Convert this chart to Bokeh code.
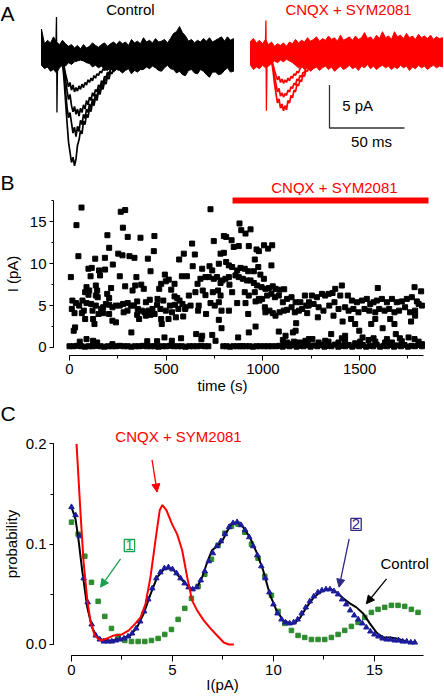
from bokeh.plotting import figure
from bokeh.layouts import column
from bokeh.models import (Range1d, Label, Arrow, NormalHead, SingleIntervalTicker,
                          PrintfTickFormatter)
from bokeh.embed import file_html
from bokeh.resources import INLINE

FONT = "Liberation Sans"
RED = "#ff0000"
GREEN_FIT = "#2e8b2e"
GREEN_BOX = "#1aa050"
BLUE_FIT = "#1c1c9c"
BLUE_BOX = "#2e2a86"
W = 444

# ---------------- Panel A: example traces (ms, pA) ----------------
trace_t = [0, 2, 4, 6, 8, 10, 12, 14, 16, 18, 20, 22, 24, 26, 28, 30, 32, 34, 36, 38,
           40, 42, 44, 46, 48, 50, 52, 54, 56, 58, 60, 62, 64, 66, 68, 70, 72, 74, 76, 78,
           80, 82, 84, 86, 88, 90, 92, 94, 96, 98, 100, 102, 104, 106, 108, 110, 112, 114, 116, 118,
           120, 122, 124, 126, 128]
ctrl_upper = [3.3, 1.6, 2.0, 1.7, 2.4, 1.8, 1.5, 2.0, 1.6, 1.3,
              1.5, 1.1, 1.4, 1.0, 1.5, 1.1, 1.3, 1.7, 1.4, 1.2,
              1.5, 1.7, 1.3, 1.6, 1.8, 1.5, 1.9, 1.6, 1.8, 1.4,
              2.1, 1.7, 1.9, 1.6, 2.3, 1.8, 2.0, 1.7, 2.2, 1.8,
              1.9, 2.1, 1.7, 2.2, 2.8, 3.0, 3.6, 2.9, 2.5, 1.9,
              2.1, 1.7, 2.0, 1.8, 2.2, 1.9, 2.3, 1.8, 2.0, 2.2,
              2.4, 1.9, 2.4, 2.0, 2.2]
ctrl_lower = [-0.9, -1.3, -1.1, -1.6, -1.4, -1.8, -1.2, -0.9, -1.0, -0.6,
              -0.8, -0.5, -0.4, -0.3, -0.4, -0.6, -0.7, -1.1, -0.9, -1.2,
              -1.0, -1.4, -1.5, -1.2, -1.7, -1.4, -1.5, -1.8, -1.5, -1.3,
              -1.9, -1.5, -1.7, -1.4, -1.4, -1.1, -1.3, -1.0, -1.2, -1.5,
              -1.6, -1.2, -0.9, -1.3, -1.4, -1.8, -1.6, -2.0, -2.1, -1.5,
              -1.4, -1.8, -1.9, -1.4, -1.6, -2.0, -2.3, -1.7, -1.7, -2.0,
              -1.9, -1.5, -1.2, -1.7, -1.6]
drug_upper = [1.9, 2.2, 1.7, 2.0, 1.6, 2.1, 1.5, 1.8, 1.3, 1.6,
              1.4, 1.7, 1.3, 1.8, 1.6, 2.1, 1.7, 2.0, 1.8, 2.3,
              1.9, 2.1, 2.4, 1.9, 2.2, 2.0, 2.5, 2.1, 2.3, 1.9,
              2.6, 2.0, 2.2, 2.4, 2.0, 2.5, 2.1, 2.3, 2.9, 2.2,
              2.4, 2.0, 2.6, 2.2, 3.0, 2.3, 2.5, 2.1, 3.0, 2.4,
              2.6, 2.2, 2.8, 2.3, 2.5, 2.1, 2.7, 2.3, 2.5, 2.2,
              2.6, 2.1, 2.4, 2.2, 2.3]
drug_lower = [-0.9, -1.4, -1.1, -1.3, -0.9, -1.2, -1.0, -0.7, -0.4, -0.6,
              -0.3, -0.5, -0.2, -0.4, -0.6, -0.9, -1.2, -1.0, -1.4, -1.2,
              -1.6, -1.3, -1.1, -1.5, -1.2, -1.0, -1.4, -1.1, -1.6, -1.3,
              -1.0, -1.4, -1.2, -0.9, -1.3, -1.1, -1.5, -1.0, -1.2, -0.8,
              -1.3, -1.0, -1.4, -1.1, -0.9, -1.2, -1.0, -1.4, -1.1, -1.3,
              -0.9, -1.2, -1.0, -1.5, -1.1, -1.3, -0.9, -1.2, -1.0, -1.4,
              -1.1, -0.9, -1.2, -1.0, -1.1]

ctrl_event_t = [14, 15, 16, 17, 18, 19, 20, 21, 22, 23, 24, 25, 26, 27, 28, 29, 30, 31,
                32, 33, 34, 35, 36, 37, 38, 39, 40, 41, 42, 43, 44, 45, 46, 47, 48]
ctrl_event_1 = [-0.5, -2.5, -5.0, -7.5, -9.8, -11.0, -12.2, -11.6, -12.6, -11.8, -10.2, -9.6,
                -8.5, -8.9, -7.4, -7.8, -6.6, -7.0, -5.9, -6.3, -5.2, -5.6, -4.6, -5.0, -3.9,
                -4.3, -3.4, -3.7, -2.8, -3.1, -2.2, -2.5, -1.7, -1.9, -1.2]
ctrl_event_2 = [-0.4, -1.8, -3.9, -5.8, -7.0, -6.4, -7.6, -8.8, -8.1, -9.2, -8.0, -8.6,
                -7.3, -7.8, -6.6, -7.1, -6.0, -6.4, -5.4, -5.9, -4.8, -5.3, -4.3, -4.6, -3.6,
                -4.0, -3.0, -3.4, -2.5, -2.7, -1.9, -2.1, -1.4, -1.2, -1.0]
ctrl_event_3 = [-0.3, -1.2, -2.6, -3.8, -4.9, -4.3, -5.6, -6.3, -5.7, -6.6, -6.0, -6.8,
                -5.9, -6.4, -5.5, -6.0, -5.0, -5.5, -4.6, -5.0, -4.1, -4.5, -3.7, -4.0, -3.2,
                -3.5, -2.7, -3.0, -2.2, -2.4, -1.7, -1.9, -1.3, -1.0, -0.9]
ctrl_event_4 = [-0.3, -1.0, -1.9, -2.6, -3.4, -2.9, -3.8, -3.2, -4.0, -3.5, -3.9, -3.3,
                -3.7, -3.1, -3.5, -2.9, -3.2, -2.6, -2.9, -2.4, -2.7, -2.1, -2.4, -1.9, -2.1,
                -1.6, -1.8, -1.3, -1.5, -1.1, -1.3, -1.0, -1.2, -0.9, -1.0]
drug_event_t = [14, 15, 16, 17, 18, 19, 20, 21, 22, 23, 24, 25, 26, 27, 28, 29, 30, 31,
                32, 33, 34, 35, 36, 37, 38, 39]
drug_event_1 = [-0.3, -1.5, -3.0, -4.2, -5.3, -4.8, -5.9, -5.4, -6.2, -5.6, -6.1, -5.0, -5.3,
                -4.4, -4.7, -3.8, -4.0, -3.1, -3.3, -2.6, -2.8, -2.0, -2.2, -1.5, -1.6, -1.0]
drug_event_2 = [-0.3, -1.1, -2.2, -3.1, -4.0, -3.6, -4.5, -4.1, -4.6, -4.2, -4.4, -3.8, -4.0,
                -3.4, -3.6, -3.0, -3.2, -2.5, -2.7, -2.1, -2.3, -1.7, -1.8, -1.2, -1.0, -0.8]
drug_event_3 = [-0.2, -0.8, -1.5, -2.1, -2.6, -2.2, -2.9, -2.5, -3.0, -2.6, -2.9, -2.4, -2.7,
                -2.2, -2.4, -1.9, -2.1, -1.6, -1.8, -1.3, -1.1, -0.9, -1.0, -0.8, -0.9, -0.7]
ctrl_artifact_t = [9.5, 10.0, 10.3, 10.7, 11.2]
ctrl_artifact_I = [0.5, 4.7, -6.4, -1.0, 0.3]
drug_artifact_t = [9.8, 10.3, 10.6, 11.0, 11.4]
drug_artifact_I = [0.5, 4.3, -6.2, -0.8, 0.4]
scale_ms = 50
scale_pA = 5

# ---------------- Panel B: amplitude vs time (s, pA) ----------------
events_0_600 = [
    (62, 16.7), (36, 14.6), (265, 16.2), (288, 16.4), (276, 14.3), (196, 13.4), (301, 13.2), (367, 13.1),
    (439, 13.3), (205, 11.9), (436, 11.5), (46, 10.9), (252, 11.2), (274, 11.0), (183, 10.7), (133, 10.6),
    (310, 10.9), (336, 10.7), (405, 10.6), (591, 11.2), (567, 10.5), (224, 9.9), (98, 9.4), (115, 9.5),
    (153, 9.2), (184, 9.3), (419, 9.1), (7, 8.4), (109, 8.5), (158, 8.6), (260, 8.5), (346, 8.4),
    (493, 8.7), (513, 8.1), (581, 8.5), (88, 7.2), (102, 6.8), (81, 6.6), (136, 7.4), (143, 6.8),
    (215, 7.1), (288, 7.3), (326, 6.8), (340, 7.4), (371, 7.5), (384, 7.0), (464, 7.0), (474, 7.6),
    (498, 7.9), (526, 6.9), (543, 7.6), (98, 6.3), (136, 6.2), (146, 6.0), (195, 6.4), (205, 5.9),
    (543, 6.1), (557, 5.9), (569, 5.6), (350, 5.5), (395, 5.4), (415, 5.7), (485, 5.6), (455, 5.8),
    (15, 5.6), (33, 5.3), (12, 4.6), (50, 5.0), (67, 5.6), (88, 5.3), (74, 4.4), (112, 5.2),
    (119, 4.4), (136, 5.0), (164, 4.6), (174, 4.8), (188, 5.2), (205, 5.1), (222, 4.8), (240, 5.0),
    (260, 5.0), (277, 5.2), (301, 5.3), (319, 5.0), (333, 5.0), (353, 4.6), (374, 4.4), (388, 4.2),
    (408, 4.4), (429, 4.6), (453, 5.1), (470, 4.6), (498, 4.4), (519, 5.0), (546, 5.1), (563, 4.6),
    (584, 5.2), (598, 4.6), (280, 4.2), (300, 4.4), (440, 4.0), (530, 4.2), (350, 3.9),
    (26, 4.1), (64, 4.1), (81, 3.4), (122, 3.4), (129, 2.8), (150, 4.0), (174, 4.1), (205, 4.0),
    (222, 3.2), (240, 3.0), (360, 3.4), (395, 3.8), (419, 3.9), (474, 3.4), (477, 2.8), (512, 3.4),
    (550, 3.6), (588, 3.7), (29, 2.4), (22, 2.0), (320, 1.8),
    (53, 0.7), (88, 1.0), (122, 0.8), (143, 0.6), (222, 0.4), (402, 0.75), (453, 0.75), (491, 1.2),
    (529, 0.8), (577, 1.1),
]
events_600_1240 = [
    (729, 16.5), (879, 14.8), (888, 14.0), (910, 13.6), (936, 14.1), (634, 12.4), (746, 12.7), (798, 13.3),
    (810, 13.2), (838, 12.8), (849, 12.0), (875, 12.1), (927, 12.1), (967, 11.7), (979, 11.5), (1006, 12.2),
    (1027, 11.8), (1048, 12.2), (648, 11.1), (781, 11.2), (798, 11.3), (958, 10.5), (637, 9.7), (686, 9.4),
    (724, 9.7), (738, 9.2), (772, 10.0), (810, 10.2), (824, 9.8), (841, 9.6), (867, 9.2), (884, 9.5),
    (906, 9.4), (924, 9.1), (953, 9.1), (976, 9.6), (987, 8.7), (1005, 8.2), (1044, 9.8), (607, 8.5),
    (662, 7.6), (677, 8.2), (703, 8.4), (720, 8.4), (746, 8.2), (763, 8.4), (781, 7.7), (790, 8.0),
    (806, 8.2), (824, 8.4), (858, 8.6), (875, 8.4), (896, 8.2), (918, 8.0), (936, 8.0), (953, 7.7),
    (970, 7.4), (993, 7.2), (1013, 7.0), (1031, 7.1), (1051, 7.3), (1065, 7.0), (1086, 6.9), (1110, 6.95),
    (617, 6.2), (651, 6.6), (689, 6.8), (703, 6.25), (741, 6.6), (768, 6.8), (781, 6.2), (827, 7.5),
    (841, 6.6), (906, 6.6), (927, 6.2), (958, 6.6), (979, 5.8), (996, 5.8), (1022, 6.2), (1044, 6.4),
    (1062, 6.0), (1082, 6.2), (1103, 5.4), (1125, 5.8), (1148, 6.0), (1169, 5.4), (1194, 5.4), (1217, 6.2),
    (1224, 5.0), (1238, 5.4),
    (600, 4.8), (626, 5.0), (668, 5.0), (665, 4.4), (706, 4.0), (729, 5.3), (751, 5.0), (772, 5.4),
    (786, 4.4), (824, 4.4), (867, 5.3), (910, 5.3), (924, 4.0), (962, 5.5), (982, 5.6), (1010, 4.8),
    (1013, 4.2), (1034, 4.4), (1051, 4.1), (1065, 3.8), (1086, 4.2), (1108, 4.4), (1125, 4.5), (1148, 4.8),
    (1165, 4.2), (1186, 4.4), (1203, 4.6), (1229, 4.1),
    (772, 3.3), (786, 2.3), (962, 2.5), (927, 1.8), (872, 1.2), (655, 1.6), (682, 1.0), (686, 1.4),
    (738, 1.5), (755, 0.8), (1082, 1.9), (1117, 1.4), (1155, 1.8), (1169, 2.0), (1172, 2.9), (1103, 0.9),
    (1125, 0.6), (1148, 0.4), (1169, 0.6), (1194, 0.6), (1220, 0.8), (1238, 1.0), (1110, 0.5), (1135, 0.3),
    (1160, 0.7), (1180, 0.35), (1200, 0.5), (1215, 0.3), (1232, 0.6),
]
events_1240_1830 = [
    (1408, 7.4), (1594, 7.1), (1784, 7.2), (1818, 6.7), (1374, 7.0), (1360, 6.5), (1340, 6.4), (1253, 6.2),
    (1279, 6.0), (1305, 6.4), (1322, 6.2), (1400, 6.2), (1439, 6.2), (1460, 5.6), (1486, 5.4), (1512, 5.6),
    (1537, 5.8), (1555, 5.2), (1572, 5.4), (1589, 5.6), (1615, 5.8), (1641, 5.4), (1667, 5.8), (1692, 5.4),
    (1718, 5.5), (1744, 5.8), (1770, 6.0), (1796, 5.5), (1805, 5.2),
    (1236, 5.0), (1262, 5.2), (1288, 4.8), (1313, 4.4), (1343, 5.0), (1370, 5.4), (1391, 4.6), (1425, 4.8),
    (1443, 4.4), (1468, 4.6), (1494, 4.2), (1525, 4.6), (1550, 4.4), (1581, 4.2), (1601, 4.6), (1629, 4.4),
    (1653, 4.6), (1680, 4.2), (1704, 4.4), (1735, 4.8), (1761, 4.2), (1787, 4.4), (1822, 5.0),
    (1284, 3.6), (1365, 3.8), (1412, 3.1), (1456, 3.4), (1477, 2.8), (1498, 2.0), (1560, 2.8), (1581, 3.4),
    (1619, 2.3), (1658, 3.4), (1680, 2.8), (1766, 3.1), (1787, 3.8),
    (1353, 1.6), (1425, 1.4), (1515, 1.2), (1687, 1.6), (1753, 1.2), (1784, 1.0), (1256, 1.0), (1322, 0.8),
    (1391, 0.6), (1546, 0.9), (1632, 0.6), (1288, 0.6), (1425, 0.8), (1477, 0.5), (1581, 0.7), (1667, 0.6),
    (1718, 0.75), (1805, 0.7), (1822, 0.4), (1708, 1.1), (1641, 1.0), (1572, 1.1), (1408, 1.1), (1339, 0.7),
    (1503, 0.7),
]
failures_t = [0, 20, 40, 60, 80, 100, 120, 140, 160, 180, 200, 220, 240, 260, 280, 300, 320, 340,
              360, 380, 400, 420, 440, 460, 480, 500, 520, 540, 560, 580, 600, 620, 640, 660, 680,
              700, 718, 795, 812, 830, 848, 866, 882, 895, 912, 930, 948, 966, 985, 1008, 1026, 1045,
              1068, 1085, 1102, 1120, 1138, 1156, 1174, 1192, 1210, 1228, 1246, 1264, 1282, 1300,
              1318, 1336, 1354, 1372, 1390, 1408, 1426, 1444, 1462, 1480, 1498, 1516, 1534, 1552,
              1570, 1588, 1606, 1624, 1642, 1660, 1678, 1696, 1714, 1732, 1750, 1768, 1786, 1804, 1822]
failures_I = [0.15, 0.15, 0.2, 0.15, 0.1, 0.15, 0.15, 0.2, 0.15, 0.1, 0.15, 0.15, 0.15, 0.2, 0.15, 0.15,
              0.1, 0.15, 0.15, 0.2, 0.15, 0.15, 0.15, 0.1, 0.15, 0.15, 0.2, 0.15, 0.15, 0.15, 0.1, 0.15,
              0.15, 0.15, 0.2, 0.15, 0.15, 0.15, 0.15, 0.1, 0.15, 0.15, 0.15, 0.15, 0.15, 0.15, 0.1, 0.15,
              0.15, 0.15, 0.15, 0.15, 0.15, 0.2, 0.1, 0.25, 0.15, 0.3, 0.1, 0.2, 0.15, 0.3, 0.1, 0.25,
              0.15, 0.3, 0.1, 0.2, 0.15, 0.35, 0.1, 0.2, 0.15, 0.3, 0.1, 0.25, 0.15, 0.3, 0.1, 0.2,
              0.15, 0.35, 0.1, 0.2, 0.15, 0.3, 0.1, 0.25, 0.15, 0.3, 0.1, 0.2, 0.15, 0.3, 0.15]
drug_start_s = 843
drug_end_s = 1856

# ---------------- Panel C: amplitude histograms (pA, probability) ----------------
control_x = [0.0, 0.2, 0.35, 0.53, 0.78, 1.02, 1.27, 1.6, 2.0, 2.5, 2.92, 3.25, 3.58, 3.91, 4.24, 4.57,
             4.82, 5.07, 5.4, 5.73, 5.97, 6.22, 6.47, 6.72, 6.96, 7.21, 7.46, 7.71, 7.95, 8.2, 8.5,
             8.83, 9.16, 9.49, 9.82, 10.15, 10.48, 10.81, 11.05, 11.3, 11.6, 11.96, 12.3, 12.63, 12.87,
             13.12, 13.45, 13.78, 14.11, 14.44, 14.77, 15.1, 15.43, 15.76, 16.1, 16.42, 16.75, 17.08]
control_p = [0.137, 0.125, 0.104, 0.074, 0.037, 0.017, 0.007, 0.004, 0.004, 0.006, 0.009, 0.017, 0.031,
             0.050, 0.067, 0.075, 0.076, 0.074, 0.066, 0.059, 0.055, 0.057, 0.067, 0.082, 0.094, 0.098,
             0.103, 0.113, 0.121, 0.122, 0.117, 0.107, 0.092, 0.074, 0.050, 0.034, 0.024, 0.021, 0.021,
             0.026, 0.036, 0.046, 0.052, 0.055, 0.055, 0.052, 0.046, 0.041, 0.037, 0.031, 0.021, 0.012,
             0.007, 0.007, 0.006, 0.004, 0.002, 0.002]
drug_x = [0.25, 0.45, 0.6, 0.78, 0.95, 1.15, 1.44, 1.77, 2.1, 2.5, 2.84, 3.17, 3.42, 3.66, 3.91, 4.16,
          4.37, 4.5, 4.7, 4.98, 5.23, 5.48, 5.73, 5.97, 6.22, 6.55, 6.88, 7.21, 7.54, 7.79, 8.04]
drug_p = [0.200, 0.130, 0.082, 0.045, 0.022, 0.009, 0.004, 0.006, 0.009, 0.010, 0.014, 0.021, 0.027,
          0.040, 0.067, 0.104, 0.134, 0.139, 0.134, 0.120, 0.110, 0.094, 0.067, 0.044, 0.034, 0.024,
          0.016, 0.009, 0.002, 0.0, 0.0]
fit2_x = [0.0, 0.2, 0.4, 0.6, 0.8, 1.0, 1.2, 1.4, 1.6, 1.8, 2.0, 2.2, 2.4, 2.6, 2.8, 3.0, 3.2, 3.4,
          3.6, 3.8, 4.0, 4.2, 4.4, 4.6, 4.8, 5.0, 5.2, 5.4, 5.6, 5.8, 6.0, 6.2, 6.4, 6.6, 6.8, 7.0,
          7.2, 7.4, 7.6, 7.8, 8.0, 8.2, 8.4, 8.6, 8.8, 9.0, 9.2, 9.4, 9.6, 9.8, 10.0, 10.2, 10.4,
          10.6, 10.8, 11.0, 11.2, 11.4, 11.6, 11.8, 12.0, 12.2, 12.4, 12.6, 12.8, 13.0, 13.2, 13.4,
          13.6, 13.8, 14.0, 14.2, 14.4, 14.6, 14.8, 15.0, 15.2, 15.4, 15.6, 15.8, 16.0, 16.2, 16.4,
          16.6, 16.8, 17.0]
fit2_p = [0.137, 0.129, 0.108, 0.066, 0.042, 0.020, 0.009, 0.005, 0.003, 0.003,
          0.003, 0.004, 0.005, 0.006, 0.008, 0.011, 0.016, 0.023, 0.033, 0.045,
          0.056, 0.066, 0.072, 0.076, 0.077, 0.075, 0.071, 0.066, 0.061, 0.057,
          0.055, 0.057, 0.064, 0.073, 0.083, 0.091, 0.098, 0.103, 0.110, 0.117,
          0.121, 0.122, 0.119, 0.114, 0.107, 0.098, 0.089, 0.078, 0.066, 0.052,
          0.040, 0.031, 0.025, 0.022, 0.021, 0.022, 0.025, 0.031, 0.037, 0.043,
          0.048, 0.052, 0.054, 0.055, 0.055, 0.053, 0.050, 0.045, 0.040, 0.034,
          0.029, 0.025, 0.021, 0.017, 0.013, 0.010, 0.008, 0.006, 0.005, 0.005,
          0.004, 0.004, 0.003, 0.003, 0.002, 0.002]
fit1_x = [0.00, 0.33, 0.66, 0.99, 1.32, 1.65, 1.98, 2.31, 2.64, 2.97, 3.30, 3.63, 3.96, 4.29, 4.62,
          4.95, 5.28, 5.61, 5.94, 6.27, 6.60, 6.93, 7.26, 7.59, 7.92, 8.25, 8.58, 8.91, 9.24, 9.57,
          9.90, 10.23, 10.56, 10.89, 11.22, 11.55, 11.88, 12.21, 12.54, 12.87, 13.20, 13.53, 13.86,
          14.19, 14.52, 14.85, 15.18, 15.51, 15.84, 16.17, 16.50, 16.83, 17.16]
fit1_p = [0.122, 0.110, 0.088, 0.062, 0.043, 0.028, 0.016, 0.008, 0.004, 0.003,
          0.003, 0.003, 0.004, 0.006, 0.010, 0.015, 0.025, 0.036, 0.046, 0.058,
          0.070, 0.085, 0.099, 0.111, 0.118, 0.120, 0.112, 0.100, 0.086, 0.068,
          0.049, 0.033, 0.021, 0.014, 0.009, 0.007, 0.005, 0.005, 0.005, 0.007,
          0.010, 0.014, 0.018, 0.022, 0.027, 0.032, 0.035, 0.037, 0.039, 0.039,
          0.038, 0.035, 0.032]


def style_axis(ax, tick_out, minor_out):
    ax.axis_line_color = "black"
    ax.axis_line_width = 1
    ax.major_tick_line_color = "black"
    ax.minor_tick_line_color = "black"
    ax.major_tick_in = 0
    ax.minor_tick_in = 0
    ax.major_tick_out = tick_out
    ax.minor_tick_out = minor_out
    ax.major_label_text_font = FONT
    ax.major_label_text_font_size = "15px"
    ax.major_label_text_color = "black"
    ax.major_label_standoff = 3
    ax.axis_label_text_font = FONT
    ax.axis_label_text_font_size = "15px"
    ax.axis_label_text_font_style = "normal"
    ax.axis_label_text_color = "black"


def txt(x, y, text, color="black", size="15px", align="center", baseline="middle", **kw):
    return Label(x=x, y=y, text=text, text_color=color, text_font=FONT, text_font_size=size,
                 text_align=align, text_baseline=baseline, **kw)


# ================= Figure A (traces, plus the heading row of panel B) =================
drug_offset = 139.33   # red traces are drawn to the right of the control traces
pA = figure(width=W, height=195, x_range=Range1d(-27.33, 268.67), y_range=Range1d(-16.05, 6.63),
            x_axis_type=None, y_axis_type=None, title=None,
            output_backend="svg", toolbar_location=None,
            min_border_left=0, min_border_right=0, min_border_top=0, min_border_bottom=0,
            outline_line_color=None)
pA.grid.visible = False

band_x = trace_t + trace_t[::-1]
pA.patch(band_x, ctrl_upper + ctrl_lower[::-1], color="black", line_width=1)
for ev in (ctrl_event_1, ctrl_event_2, ctrl_event_3, ctrl_event_4):
    pA.line(ctrl_event_t, ev, color="black", line_width=1.7)
pA.line(ctrl_artifact_t, ctrl_artifact_I, color="black", line_width=1.3)

drug_band_x = [t + drug_offset for t in band_x]
pA.patch(drug_band_x, drug_upper + drug_lower[::-1], color=RED, line_width=1)
for ev in (drug_event_1, drug_event_2, drug_event_3):
    pA.line([t + drug_offset for t in drug_event_t], ev, color=RED, line_width=1.7)
pA.line([t + drug_offset for t in drug_artifact_t], drug_artifact_I, color=RED, line_width=1.3)

sb_x, sb_y = 192, -8.2
pA.line([sb_x, sb_x, sb_x + scale_ms], [sb_y + scale_pA, sb_y, sb_y], color="#333333", line_width=1.3)
pA.add_layout(txt(sb_x + 8.5, sb_y + 2.6, f"{scale_pA} pA", align="left"))
pA.add_layout(txt(sb_x + 28, sb_y - 1.55, f"{scale_ms} ms"))
pA.add_layout(txt(59.3, 5.55, "Control"))
pA.add_layout(txt(204.7, 5.55, "CNQX + SYM2081", color=RED))
pA.add_layout(txt(-27.33, 6.5, "A", size="21px", align="left", baseline="top"))
pA.add_layout(txt(-27.33, -13.2, "B", size="21px", align="left", baseline="top"))
pA.add_layout(txt(195.3, -15.1, "CNQX + SYM2081", color=RED))

# ================= Figure B =================
pB = figure(width=W, height=205, x_range=Range1d(-356.7, 1938.8), y_range=Range1d(-0.955, 18.02),
            output_backend="svg", toolbar_location=None, title=None,
            min_border_left=0, min_border_right=0, min_border_top=1, min_border_bottom=45,
            outline_line_color=None)
pB.grid.visible = False
style_axis(pB.xaxis[0], 5, 3)
style_axis(pB.yaxis[0], 4, 2)
pB.xaxis.ticker = SingleIntervalTicker(interval=500, num_minor_ticks=2)
pB.yaxis.ticker = SingleIntervalTicker(interval=5, num_minor_ticks=2)
pB.xaxis.bounds = (0, 1830)
pB.yaxis.bounds = (0, 17.5)
pB.yaxis.fixed_location = -82.7
pB.xaxis.axis_label = "time (s)"
pB.yaxis.axis_label = "I (pA)"
pB.xaxis.axis_label_standoff = 0
pB.yaxis.axis_label_standoff = 6

all_events = events_0_600 + events_600_1240 + events_1240_1830
pB.scatter([e[0] for e in all_events], [e[1] for e in all_events], marker="square", size=5,
           color="black")
pB.scatter(failures_t, failures_I, marker="square", size=5, color="black")
pB.segment(x0=[drug_start_s], y0=[17.54], x1=[drug_end_s], y1=[17.54], color=RED, line_width=6)

# ================= Figure C =================
pC = figure(width=W, height=296, x_range=Range1d(-3.515, 18.47), y_range=Range1d(-0.011, 0.2423),
            output_backend="svg", toolbar_location=None, title=None,
            min_border_left=0, min_border_right=0, min_border_top=1, min_border_bottom=41,
            outline_line_color=None)
pC.grid.visible = False
style_axis(pC.xaxis[0], 6, 4)
style_axis(pC.yaxis[0], 4, 3)
pC.xaxis.ticker = SingleIntervalTicker(interval=5, num_minor_ticks=2)
pC.yaxis.ticker = SingleIntervalTicker(interval=0.1, num_minor_ticks=2)
pC.yaxis.formatter = PrintfTickFormatter(format="%.1f")
pC.xaxis.bounds = (0, 17.43)
pC.yaxis.bounds = (0, 0.2)
pC.yaxis.fixed_location = -0.891
pC.yaxis.axis_label = "probability"
pC.yaxis.axis_label_standoff = 3
pC.xaxis.axis_label = "I(pA)"
pC.xaxis.axis_label_standoff = -2

pC.scatter(fit1_x, fit1_p, marker="square", size=4.5, color=GREEN_FIT)
pC.line(control_x, control_p, color="black", line_width=2)
pC.scatter(fit2_x, fit2_p, marker="triangle", size=5.5, color=BLUE_FIT)
pC.line(drug_x, drug_p, color=RED, line_width=2)

pC.add_layout(txt(-3.515, 0.242, "C", size="21px", align="left", baseline="top"))
pC.add_layout(txt(5.3, 0.207, "CNQX + SYM2081", color=RED))
pC.add_layout(Arrow(end=NormalHead(size=8, fill_color=RED, line_color=RED),
                    x_start=3.99, y_start=0.184, x_end=4.24, y_end=0.152,
                    line_color=RED, line_width=1.3))
pC.add_layout(txt(2.87, 0.0987, "1", color=GREEN_BOX, border_line_color=GREEN_BOX,
                  border_line_width=1.3, background_fill_color="white", padding=1))
pC.add_layout(Arrow(end=NormalHead(size=8, fill_color=GREEN_BOX, line_color=GREEN_BOX),
                    x_start=2.43, y_start=0.0854, x_end=1.44, y_end=0.0571,
                    line_color=GREEN_BOX, line_width=1.3))
pC.add_layout(txt(14.09, 0.1198, "2", color=BLUE_BOX, border_line_color=BLUE_BOX,
                  border_line_width=1.3, background_fill_color="white", padding=1))
pC.add_layout(Arrow(end=NormalHead(size=8, fill_color=BLUE_BOX, line_color=BLUE_BOX),
                    x_start=13.75, y_start=0.1054, x_end=13.25, y_end=0.0571,
                    line_color=BLUE_BOX, line_width=1.3))
pC.add_layout(txt(16.5, 0.0807, "Control"))
pC.add_layout(Arrow(end=NormalHead(size=8, fill_color="black", line_color="black"),
                    x_start=15.6, y_start=0.0655, x_end=14.6, y_end=0.0406,
                    line_color="black", line_width=1.3))

layout = column(pA, pB, pC, spacing=0)
open("out.html", "w").write(file_html(layout, INLINE))
